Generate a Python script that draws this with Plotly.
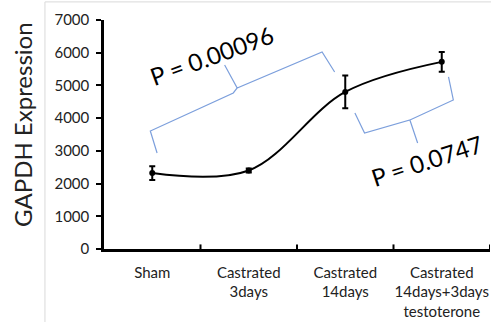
import plotly.graph_objects as go

# GAPDH expression per treatment group
groups = ["Sham", "Castrated<br>3days", "Castrated<br>14days",
          "Castrated<br>14days+3days<br>testoterone"]
expression = [2320, 2400, 4800, 5720]
error = [210, 60, 500, 300]

y_ticks = [0, 1000, 2000, 3000, 4000, 5000, 6000, 7000]
y_title = "GAPDH Expression"

# significance braces, in (category index, expression) units
brace_1_x = [0.05, -0.02, 0.84, 0.88, 0.75, 0.88, 1.76, 1.89]
brace_1_y = [2935, 3607, 4769, 4922, 5625, 4922, 6022, 5411]
brace_2_x = [2.10, 2.20, 2.67, 2.75, 2.67, 3.12, 3.07]
brace_2_y = [4158, 3546, 3943, 3240, 3943, 4555, 5258]
p_labels = ["P = 0.00096", "P = 0.0747"]
p_pos_x = [0.61, 2.84]
p_pos_y = [5930, 2720]
p_angles = [-20, -18]

FONT = "Lato, 'Open Sans', sans-serif"
BRACE_COLOR = "#7c9fdc"

fig = go.Figure()
fig.add_trace(go.Scatter(
    x=list(range(len(groups))), y=expression,
    mode="lines+markers",
    line=dict(color="black", width=2, shape="spline", smoothing=1),
    marker=dict(color="black", size=6),
    error_y=dict(type="data", array=error, color="black", thickness=2, width=3),
    showlegend=False,
))

def brace_path(xs, ys):
    return "M " + " L ".join(f"{x},{y}" for x, y in zip(xs, ys))

for xs, ys in [(brace_1_x, brace_1_y), (brace_2_x, brace_2_y)]:
    fig.add_shape(type="path", xref="x", yref="y", path=brace_path(xs, ys),
                  line=dict(color=BRACE_COLOR, width=1.2))

for text, x, y, ang in zip(p_labels, p_pos_x, p_pos_y, p_angles):
    fig.add_annotation(x=x, y=y, xref="x", yref="y", text=text, showarrow=False,
                       textangle=ang, font=dict(family=FONT, size=24, color="black"))

# y axis title, set slightly above the axis centre
fig.add_annotation(x=-0.21, y=0.546, xref="paper", yref="paper", text=y_title,
                   showarrow=False, textangle=-90, xanchor="center", yanchor="middle",
                   font=dict(family=FONT, size=24, color="#222"))

# light outer frame on the left and top
fig.add_shape(type="line", xref="paper", yref="paper", x0=-0.153, x1=-0.153,
              y0=1.079, y1=-0.33, line=dict(color="#d9d9d9", width=1))
fig.add_shape(type="line", xref="paper", yref="paper", x0=-0.153, x1=1.01,
              y0=1.079, y1=1.079, line=dict(color="#d9d9d9", width=1))

fig.update_layout(
    width=491, height=322,
    margin=dict(l=104, r=1, t=20, b=73),
    paper_bgcolor="white", plot_bgcolor="white",
    font=dict(family=FONT, color="black"),
    xaxis=dict(
        range=[-0.5, 3.5], tickmode="array",
        tickvals=list(range(len(groups))), ticktext=groups,
        showline=True, linecolor="black", linewidth=2.5,
        ticks="", showgrid=False, zeroline=False,
        tickfont=dict(size=15, color="#222"),
        ticklabelstandoff=8,
    ),
    yaxis=dict(
        range=[0, 7000], tickvals=y_ticks,
        showline=True, linecolor="black", linewidth=2.5,
        ticks="outside", ticklen=5, tickwidth=2, tickcolor="black",
        showgrid=False, zeroline=False,
        tickfont=dict(size=15, color="#222"),
        ticklabelstandoff=4,
    ),
)

# boundary ticks between categories on the x axis
for b in [0.5, 1.5, 2.5, 3.5]:
    fig.add_shape(type="line", xref="x", yref="paper", x0=b, x1=b, y0=0, y1=0.02,
                  line=dict(color="black", width=2))

fig.write_html("out.html")
